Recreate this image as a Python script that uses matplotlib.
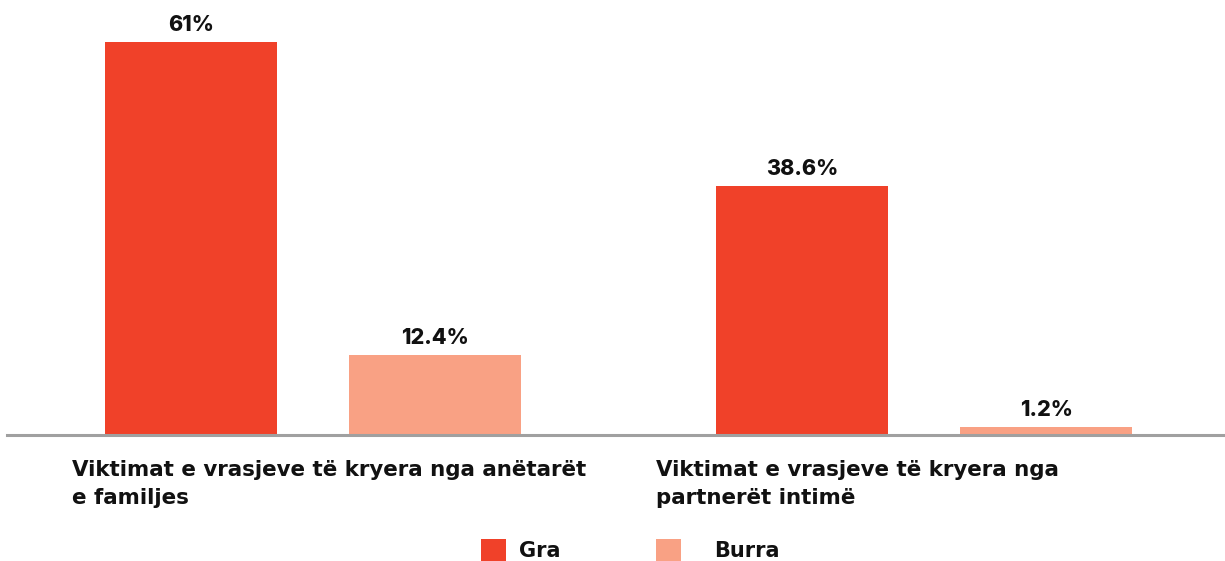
import matplotlib.pyplot as plt
import numpy as np

kategorite = ["Viktimat e vrasjeve të kryera nga anëtarët\ne familjes",
              "Viktimat e vrasjeve të kryera nga\npartnerët intimë"]
gra = [61, 38.6]
burra = [12.4, 1.2]
etiketa_gra = ["61%", "38.6%"]
etiketa_burra = ["12.4%", "1.2%"]

ngjyra_gra = "#F04129"
ngjyra_burra = "#F9A184"

plt.rcParams['font.family'] = ['Inter', 'DejaVu Sans']

fig = plt.figure(figsize=(12.25, 5.61), dpi=100)
ax = fig.add_axes([0, 1 - 435 / 561, 1, 435 / 561])

x = np.arange(len(kategorite))
w = 0.2815
b1 = ax.bar(x - 0.2, gra, w, color=ngjyra_gra, label="Gra")
b2 = ax.bar(x + 0.2, burra, w, color=ngjyra_burra, label="Burra")

for bars, labs in ((b1, etiketa_gra), (b2, etiketa_burra)):
    for r, t in zip(bars, labs):
        ax.annotate(t, (r.get_x() + r.get_width() / 2, r.get_height()),
                    xytext=(0, 5), textcoords="offset points",
                    ha="center", va="bottom", fontsize=15.5, fontweight="heavy",
                    color="#111111")

# skaji i majte i etiketave te kategorive (ne njesi te boshtit x)
label_x = [-0.3944, 0.5614]
for lx, k in zip(label_x, kategorite):
    ax.annotate(k, (lx, 0), xycoords=("data", "axes fraction"),
                xytext=(0, -18), textcoords="offset points",
                ha="left", va="top", fontsize=15.4, fontweight="bold",
                family="DejaVu Sans", color="#111111", linespacing=1.5)

ax.set_xlim(-0.5123, 1.4926)
ax.set_ylim(0, 67.5)
for s in ["top", "right", "left"]:
    ax.spines[s].set_visible(False)
ax.spines["bottom"].set_color("#a0a0a0")
ax.spines["bottom"].set_linewidth(2.2)
ax.spines["bottom"].set_bounds(-0.5008, 1.4926)
ax.set_xticks([])
ax.set_yticks([])

# dy legjenda te ndara, si ne origjinal (hapesira te ndryshme tek teksti)
for bar, xpos, pad in ((b1, 481 / 1225, 0.62), (b2, 656 / 1225, 1.6)):
    leg = fig.legend([bar], [bar.get_label()], loc="lower left",
                     bbox_to_anchor=(xpos, 0.0), borderpad=0, borderaxespad=0,
                     frameon=False,
                     prop={"family": "DejaVu Sans", "weight": "bold", "size": 15},
                     handlelength=1.2, handleheight=1.2, handletextpad=pad)
    for t in leg.get_texts():
        t.set_color("#111111")

fig.savefig("out.png", dpi=100)
